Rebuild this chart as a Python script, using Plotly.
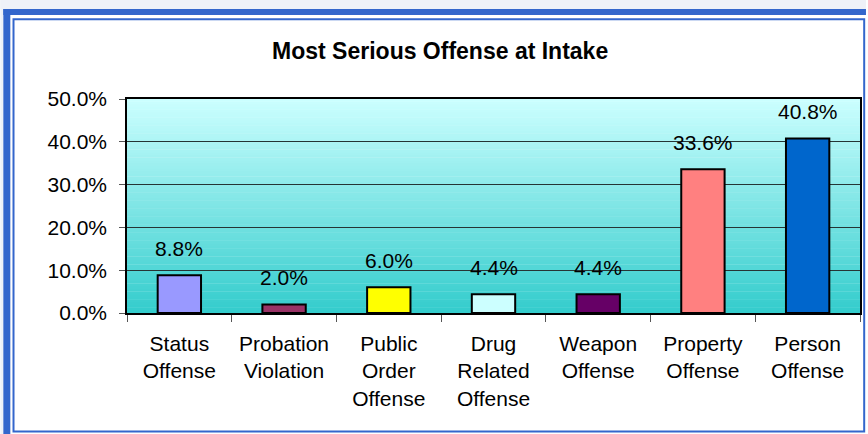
import plotly.graph_objects as go

# ---- data -------------------------------------------------------------
categories = [
    "Status<br>Offense",
    "Probation<br>Violation",
    "Public<br>Order<br>Offense",
    "Drug<br>Related<br>Offense",
    "Weapon<br>Offense",
    "Property<br>Offense",
    "Person<br>Offense",
]
shares = [0.088, 0.020, 0.060, 0.044, 0.044, 0.336, 0.408]
bar_colors = ["#9999FF", "#993366", "#FFFF00", "#CCFFFF", "#660066", "#FF8080", "#0066CC"]
y_ticks = [0.0, 0.1, 0.2, 0.3, 0.4, 0.5]
title_text = "Most Serious Offense at Intake"

# ---- page geometry ----------------------------------------------------
W, H = 868, 434
ML, MR, MT, MB = 127, 6, 99, 121
FONT = "Liberation Sans, Arial, sans-serif"


def px(x):
    """pixel column -> paper x"""
    return (x - ML) / (W - ML - MR)


def py(y):
    """pixel row -> paper y"""
    return 1 - (y - MT) / (H - MT - MB)


def lerp_hex(c0, c1, t):
    a = [int(c0[i:i + 2], 16) for i in (1, 3, 5)]
    b = [int(c1[i:i + 2], 16) for i in (1, 3, 5)]
    return "#" + "".join(f"{round(a[k] + (b[k] - a[k]) * t):02x}" for k in range(3))


fig = go.Figure(
    go.Bar(
        x=categories,
        y=shares,
        marker=dict(color=bar_colors, line=dict(color="black", width=2)),
        hoverinfo="skip",
    )
)

shapes = []

# vertical gradient filling the plotting area (light cyan -> teal)
N = 80
top_c, bot_c = "#CCFFFF", "#33CCCC"
for i in range(N):
    y0 = i / N
    y1 = (i + 1) / N + 0.002
    shapes.append(dict(
        type="rect", xref="x domain", yref="y domain",
        x0=0, x1=1, y0=y0, y1=min(y1, 1),
        fillcolor=lerp_hex(bot_c, top_c, (i + 0.5) / N),
        line=dict(width=0), layer="below",
    ))

# blue double frame around the chart
frame_blue = "#3366CC"
shapes += [
    dict(type="rect", xref="paper", yref="paper",
         x0=px(0), x1=px(W), y0=py(0), y1=py(9),
         fillcolor="#EEF1F8", line=dict(width=0), layer="below"),
    dict(type="rect", xref="paper", yref="paper",
         x0=px(0), x1=px(3), y0=py(0), y1=py(H),
         fillcolor="#EEF1F8", line=dict(width=0), layer="below"),
    dict(type="rect", xref="paper", yref="paper",
         x0=px(3), x1=px(W), y0=py(9), y1=py(15),
         fillcolor=frame_blue, line=dict(width=0), layer="below"),
    dict(type="rect", xref="paper", yref="paper",
         x0=px(3), x1=px(10), y0=py(9), y1=py(H),
         fillcolor=frame_blue, line=dict(width=0), layer="below"),
    dict(type="rect", xref="paper", yref="paper",
         x0=px(13.2), x1=px(866.2), y0=py(19.2), y1=py(431.6),
         fillcolor="rgba(0,0,0,0)", line=dict(color=frame_blue, width=2), layer="below"),
]

# value labels above each bar
annotations = [
    dict(x=c, y=v, text=f"{v * 100:.1f}%", showarrow=False,
         xanchor="center", yanchor="bottom", yshift=13,
         font=dict(family=FONT, size=21, color="black"))
    for c, v in zip(categories, shares)
]

fig.update_layout(
    width=W, height=H,
    margin=dict(l=ML, r=MR, t=MT, b=MB, pad=0),
    paper_bgcolor="white",
    plot_bgcolor="rgba(0,0,0,0)",
    bargap=0.586,
    showlegend=False,
    shapes=shapes,
    annotations=annotations,
    font=dict(family=FONT, size=21, color="black"),
    title=dict(
        text=title_text,
        font=dict(family=FONT, size=23, color="black", weight="bold"),
        x=px(441), xref="paper", xanchor="center",
        y=1 - 51 / H, yref="container", yanchor="middle",
    ),
    xaxis=dict(
        showline=True, linecolor="black", linewidth=1.5, mirror=True,
        ticks="outside", tickson="boundaries", ticklen=7, tickcolor="#555555",
        tickfont=dict(family=FONT, size=21, color="black"),
        ticklabelstandoff=11,
        showgrid=False,
    ),
    yaxis=dict(
        range=[0, 0.5], tickvals=y_ticks, tickformat=".1%",
        showline=True, linecolor="black", linewidth=1.5, mirror=True,
        ticks="outside", ticklen=6, tickcolor="#555555",
        tickfont=dict(family=FONT, size=21, color="black"),
        ticklabelstandoff=8,
        showgrid=True, gridcolor="#263535", gridwidth=1.2,
        zeroline=False,
    ),
)

fig.write_html("out.html")
